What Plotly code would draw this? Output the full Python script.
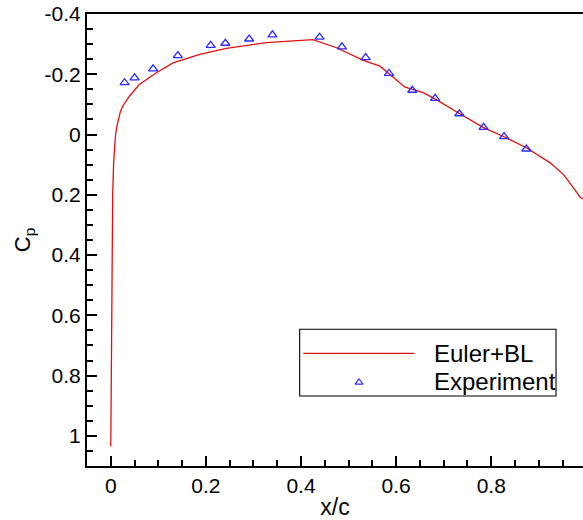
import plotly.graph_objects as go

# Euler+BL computed Cp distribution
calc_x = [0.000, 0.001, 0.002, 0.004, 0.006, 0.010, 0.013, 0.015, 0.020, 0.025, 0.039, 0.060,
          0.096, 0.131, 0.187, 0.243, 0.327, 0.425, 0.475, 0.531, 0.566, 0.587, 0.618,
          0.657, 0.681, 0.734, 0.783, 0.829, 0.874, 0.924, 0.952, 0.973, 0.987, 0.995]
calc_cp = [1.035, 0.80, 0.437, 0.20, 0.093, 0.00, -0.028, -0.040, -0.075, -0.094, -0.127, -0.166,
           -0.205, -0.238, -0.266, -0.286, -0.305, -0.315, -0.288, -0.246, -0.227, -0.199, -0.158,
           -0.139, -0.119, -0.069, -0.024, 0.009, 0.044, 0.094, 0.133, 0.177, 0.208, 0.215]

# Experimental data
exp_x = [0.029, 0.050, 0.089, 0.141, 0.210, 0.241, 0.291, 0.340, 0.439, 0.486, 0.536, 0.585,
         0.634, 0.682, 0.733, 0.784, 0.827, 0.874]
exp_cp = [-0.172, -0.188, -0.218, -0.262, -0.296, -0.303, -0.317, -0.331, -0.323, -0.291, -0.255, -0.203,
          -0.147, -0.120, -0.069, -0.024, 0.007, 0.048]

x_ticks = [0, 0.2, 0.4, 0.6, 0.8]
x_ticktext = ["0", "0.2", "0.4", "0.6", "0.8"]
y_ticks = [-0.4, -0.2, 0, 0.2, 0.4, 0.6, 0.8, 1.0]
y_ticktext = ["-0.4", "-0.2", "0", "0.2", "0.4", "0.6", "0.8", "1"]

series_names = ["Euler+BL", "Experiment"]

FONT = "Liberation Sans, Arial, sans-serif"
RED = "#e01010"
BLUE = "#2a2aff"

fig = go.Figure()
fig.add_trace(go.Scatter(x=calc_x, y=calc_cp, mode="lines", name=series_names[0],
                         line=dict(color=RED, width=1.3), showlegend=False))
fig.add_trace(go.Scatter(x=exp_x, y=exp_cp, mode="markers", name=series_names[1],
                         marker=dict(symbol="triangle-up-open", size=8, color=BLUE,
                                     line=dict(width=1.3, color=BLUE)),
                         showlegend=False))

# legend (manual) -- overlay axes in unit coordinates
leg_x0, leg_x1, leg_y0, leg_y1 = 0.4288, 0.9456, 0.1549, 0.3024
fig.add_shape(type="rect", xref="paper", yref="paper", x0=leg_x0, x1=leg_x1, y0=leg_y0, y1=leg_y1,
              line=dict(color="black", width=1.1), fillcolor="white", layer="below")
fig.add_shape(type="line", xref="paper", yref="paper", x0=0.4361, x1=0.6599, y0=0.2493, y1=0.2493,
              line=dict(color=RED, width=1.3), layer="above")
fig.add_trace(go.Scatter(x=[0.5484], y=[0.1851], xaxis="x2", yaxis="y2", mode="markers",
                         marker=dict(symbol="triangle-up-open", size=7, color=BLUE,
                                     line=dict(width=1.1, color=BLUE)),
                         showlegend=False, hoverinfo="skip"))
fig.add_annotation(xref="paper", yref="paper", x=0.6962, y=0.2493, text=series_names[0],
                   showarrow=False, xanchor="left", yanchor="middle",
                   font=dict(family=FONT, size=24, color="black"))
fig.add_annotation(xref="paper", yref="paper", x=0.6962, y=0.1865, text=series_names[1],
                   showarrow=False, xanchor="left", yanchor="middle",
                   font=dict(family=FONT, size=24, color="black"))

fig.update_layout(
    width=583, height=520,
    margin=dict(l=87, r=0, t=14, b=54),
    paper_bgcolor="white", plot_bgcolor="white",
    font=dict(family=FONT, size=21, color="black"),
    xaxis=dict(range=[-0.05, 0.993], showgrid=False, zeroline=False, automargin=False,
               showline=True, linecolor="black", linewidth=2, mirror=True,
               tickmode="array", tickvals=x_ticks, ticktext=x_ticktext,
               ticks="inside", ticklen=10, tickwidth=2, tickcolor="black",
               minor=dict(tickmode="linear", tick0=0, dtick=0.05, ticks="inside",
                          ticklen=6, tickwidth=1.5, tickcolor="black"),
               tickfont=dict(size=21),
               title=dict(text="x/c", font=dict(size=23), standoff=4)),
    yaxis=dict(range=[1.1, -0.4], showgrid=False, zeroline=False, automargin=False,
               showline=True, linecolor="black", linewidth=2,
               tickmode="array", tickvals=y_ticks, ticktext=y_ticktext,
               ticks="inside", ticklen=10, tickwidth=2, tickcolor="black",
               minor=dict(tickmode="linear", tick0=0, dtick=0.05, ticks="inside",
                          ticklen=6, tickwidth=1.5, tickcolor="black"),
               tickfont=dict(size=21),
               title=dict(text="C<sub>p</sub>", font=dict(size=22), standoff=8)),
    xaxis2=dict(range=[0, 1], overlaying="x", visible=False, fixedrange=True),
    yaxis2=dict(range=[0, 1], overlaying="y", visible=False, fixedrange=True),
)

fig.write_html("out.html", config={"displayModeBar": False},
               post_script="document.body.style.margin='0';document.body.style.overflow='hidden';")
